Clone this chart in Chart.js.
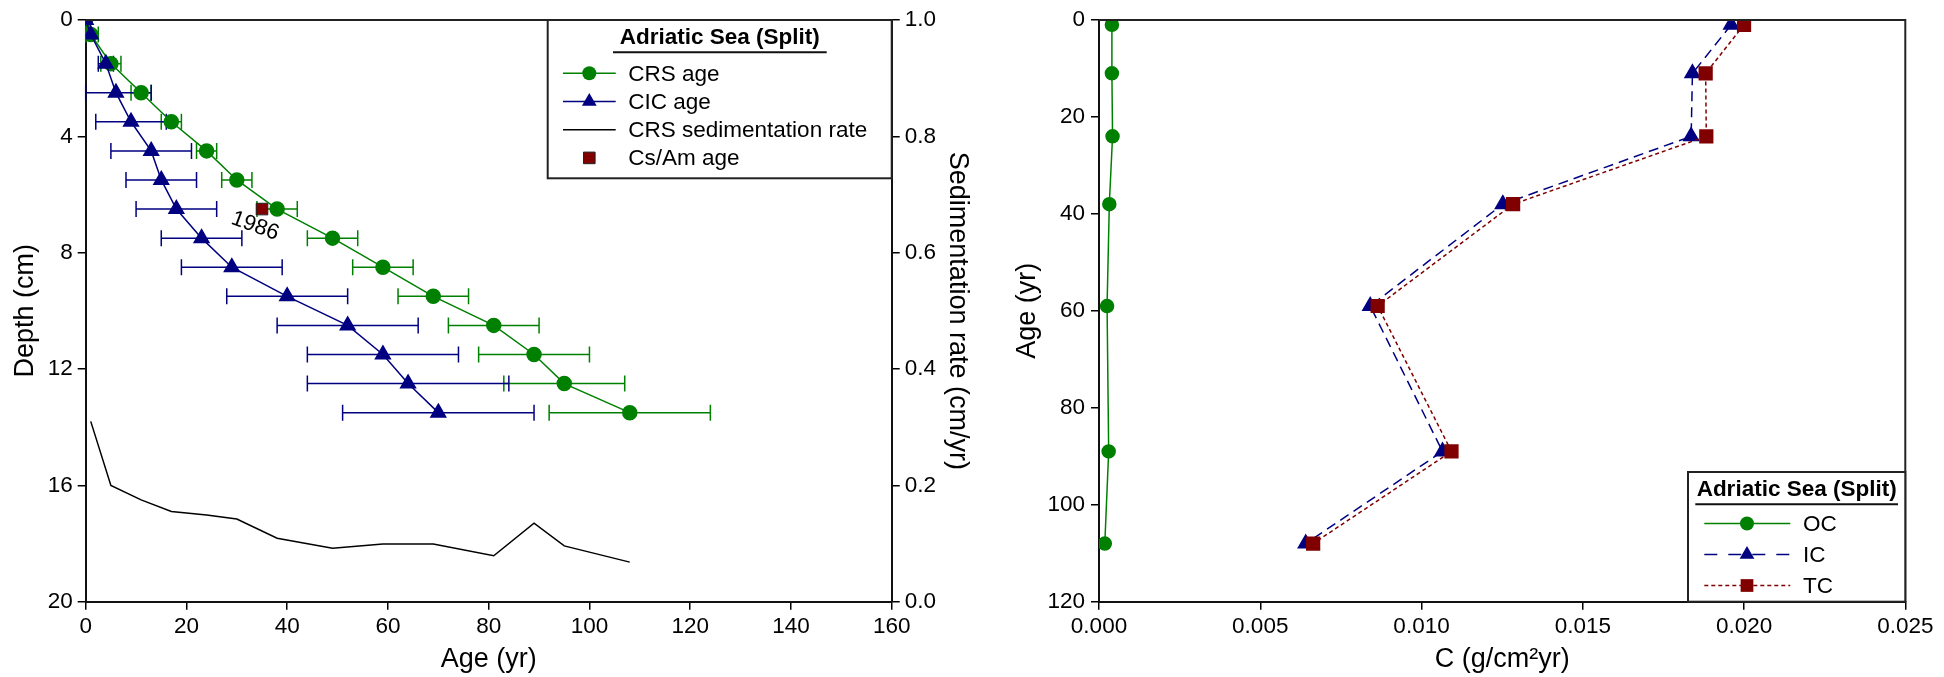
<!DOCTYPE html>
<html><head><meta charset="utf-8">
<script src="https://cdn.jsdelivr.net/npm/chart.js@4.4.0/dist/chart.umd.min.js"></script>
<style>
html,body{margin:0;padding:0;background:#fff;}
#wrap{position:relative;width:1944px;height:677px;overflow:hidden;background:#fff;}
.box{position:absolute;top:0;height:677px;}
</style></head><body>
<div id="wrap">
  <div class="box" style="left:0;width:975px;"><canvas id="c1"></canvas></div>
  <div class="box" style="left:975px;width:969px;"><canvas id="c2"></canvas></div>
</div>
<script>
// ---------- DATA (left panel) ----------
const depthCm   = [0, 0.5, 1.5, 2.5, 3.5, 4.5, 5.5, 6.5, 7.5, 8.5, 9.5, 10.5, 11.5, 12.5, 13.5];
const crsAge    = [0, 1, 5, 11, 17, 24, 30, 38, 49, 59, 69, 81, 89, 95, 108];
const crsAgeLo  = [null, 0, 3, 9, 15, 22, 27, 34, 44, 53, 62, 72, 78, 83, 92];
const crsAgeHi  = [null, 2.5, 7, 13, 19, 26, 33, 42, 54, 65, 76, 90, 100, 107, 124];
const cicAge    = [0, 1, 4, 6, 9, 13, 15, 18, 23, 29, 40, 52, 59, 64, 70];
const cicAgeLo  = [null, null, 2.5, 0, 2, 5, 8, 10, 15, 19, 28, 38, 44, 44, 51];
const cicAgeHi  = [null, null, 5.5, 13, 16, 21, 22, 26, 31, 39, 52, 66, 74, 84, 89];
const sedAge    = [1, 5, 11, 17, 24, 30, 38, 49, 59, 69, 81, 89, 95, 108];
const sedRate   = [0.31, 0.20, 0.175, 0.155, 0.149, 0.142, 0.109, 0.092, 0.099, 0.099, 0.079, 0.135, 0.096, 0.068];
const csamAge   = [35];
const csamDepth = [6.5];
const csamLabel = ['1986'];
const ageTicks   = [0, 20, 40, 60, 80, 100, 120, 140, 160];
const depthTicks = [0, 4, 8, 12, 16, 20];
const rateTicks  = [0, 0.2, 0.4, 0.6, 0.8, 1.0];

// ---------- DATA (right panel) ----------
const fluxAge = [1, 11, 24, 38, 59, 89, 108];
const ocFlux  = [0.0004, 0.0004, 0.00042, 0.00032, 0.00025, 0.0003, 0.00018];
const icFlux  = [0.0196, 0.0184, 0.01836, 0.01252, 0.00841, 0.01065, 0.00641];
const tcFlux  = [0.0200, 0.01881, 0.01883, 0.01284, 0.00864, 0.01093, 0.00664];
const fluxTicks    = [0, 0.005, 0.010, 0.015, 0.020, 0.025];
const fluxAgeTicks = [0, 20, 40, 60, 80, 100, 120];

const legendTitle = 'Adriatic Sea (Split)';
const leftLegendLabels  = ['CRS age', 'CIC age', 'CRS sedimentation rate', 'Cs/Am age'];
const rightLegendLabels = ['OC', 'IC', 'TC'];

// ---------- STYLE ----------
const GREEN = '#008000', NAVY = '#000080', DRED = '#800000';
const FAM = "'Liberation Sans', Arial, Helvetica, sans-serif";
Chart.defaults.font.family = FAM;
Chart.defaults.color = '#000';

const pts = (xs, ys) => xs.map((x, i) => ({x, y: ys[i]}));
const setTicks = arr => s => { s.ticks = arr.map(v => ({value: v})); };

function axis(opts) {
  const baseTicks = {font: {size: 22.5}, color: '#000', padding: 5, maxRotation: 0, autoSkip: false};
  const o = Object.assign({
    type: 'linear',
    grid: {drawOnChartArea: false, drawTicks: true, tickLength: 8, color: '#000', lineWidth: 1.5},
    border: {display: true, color: '#111', width: 2},
  }, opts);
  o.ticks = Object.assign({}, baseTicks, opts.ticks || {});
  return o;
}

function marker(ctx, style, x, y, r, fill, stroke, lw) {
  ctx.save(); ctx.beginPath();
  if (style === 'circle') ctx.arc(x, y, r, 0, Math.PI * 2);
  else if (style === 'triangle') {
    const a = 2 * Math.PI / 3;
    ctx.moveTo(x, y - r);
    ctx.lineTo(x + r * Math.sin(a), y - r * Math.cos(a));
    ctx.lineTo(x - r * Math.sin(a), y - r * Math.cos(a));
    ctx.closePath();
  } else if (style === 'rect') {
    const s = r * Math.SQRT1_2; ctx.rect(x - s, y - s, 2 * s, 2 * s);
  }
  ctx.fillStyle = fill; ctx.fill();
  if (lw) { ctx.strokeStyle = stroke; ctx.lineWidth = lw; ctx.stroke(); }
  ctx.restore();
}

function drawLegend(ctx, L, T, W, H, entries, geo) {
  ctx.save();
  ctx.fillStyle = '#fff'; ctx.fillRect(L, T, W, H);
  ctx.strokeStyle = '#222'; ctx.lineWidth = 2; ctx.strokeRect(L, T, W, H);
  ctx.fillStyle = '#000';
  ctx.font = 'bold 22.5px ' + FAM; ctx.textAlign = 'center'; ctx.textBaseline = 'middle';
  ctx.fillText(legendTitle, L + W / 2, T + geo.titleY);
  ctx.beginPath(); ctx.moveTo(L + geo.ulX0, T + geo.ulY); ctx.lineTo(L + geo.ulX1, T + geo.ulY);
  ctx.lineWidth = 2; ctx.strokeStyle = '#111'; ctx.stroke();
  ctx.font = '22.5px ' + FAM; ctx.textAlign = 'left';
  entries.forEach((e, i) => {
    const y = T + geo.y0 + i * geo.dy;
    if (e.line) {
      ctx.save(); ctx.beginPath(); ctx.setLineDash(e.dash || []);
      ctx.moveTo(L + geo.lx0, y); ctx.lineTo(L + geo.lx1, y);
      ctx.strokeStyle = e.color; ctx.lineWidth = e.lw || 1.5; ctx.stroke(); ctx.restore();
    }
    if (e.style) marker(ctx, e.style, L + geo.mx, y, e.r, e.fill, e.stroke, e.blw);
    ctx.fillStyle = '#000';
    ctx.fillText(e.label, L + geo.tx, y + 1);
  });
  ctx.restore();
}

// ---------- LEFT CHART ----------
const leftPlugin = {
  id: 'leftExtras',
  beforeDatasetsDraw(chart) {
    const {ctx, scales: {x, y}} = chart;
    ctx.save(); ctx.lineWidth = 1.5;
    const bars = [[crsAgeLo, crsAgeHi, GREEN], [cicAgeLo, cicAgeHi, NAVY]];
    bars.forEach(([lo, hi, col]) => {
      ctx.strokeStyle = col;
      depthCm.forEach((d, i) => {
        if (lo[i] == null) return;
        const py = y.getPixelForValue(d), x0 = x.getPixelForValue(lo[i]), x1 = x.getPixelForValue(hi[i]);
        ctx.beginPath();
        ctx.moveTo(x0, py); ctx.lineTo(x1, py);
        ctx.moveTo(x0, py - 8); ctx.lineTo(x0, py + 8);
        ctx.moveTo(x1, py - 8); ctx.lineTo(x1, py + 8);
        ctx.stroke();
      });
    });
    ctx.restore();
  },
  afterDatasetsDraw(chart) {
    const {ctx, chartArea: a, scales: {x, y}} = chart;
    ctx.save();
    ctx.beginPath(); ctx.moveTo(a.left, a.top); ctx.lineTo(a.right, a.top);
    ctx.strokeStyle = '#222'; ctx.lineWidth = 2; ctx.stroke();
    // 1986 label
    const px = x.getPixelForValue(csamAge[0]), py = y.getPixelForValue(csamDepth[0]);
    ctx.translate(px - 7, py + 17); ctx.rotate(20 * Math.PI / 180);
    ctx.font = '22px ' + FAM; ctx.fillStyle = '#000'; ctx.textAlign = 'center'; ctx.textBaseline = 'middle';
    ctx.fillText(csamLabel[0], 0, 0);
    ctx.restore();
    const W = 344, H = 158.3;
    drawLegend(ctx, a.right - W, a.top, W, H, [
      {label: leftLegendLabels[0], line: true, color: GREEN, style: 'circle', r: 7, fill: GREEN},
      {label: leftLegendLabels[1], line: true, color: NAVY, style: 'triangle', r: 8.5, fill: NAVY},
      {label: leftLegendLabels[2], line: true, color: '#000'},
      {label: leftLegendLabels[3], style: 'rect', r: 8.2, fill: DRED, stroke: '#222', blw: 1},
    ], {titleY: 17.5, ulX0: 65.3, ulX1: 279, ulY: 32.3, y0: 53.3, dy: 28.2, lx0: 15.3, lx1: 68, mx: 41.6, tx: 80.6});
  }
};

new Chart(document.getElementById('c1'), {
  type: 'scatter',
  data: {datasets: [
    {label: 'CIC age', data: pts(cicAge, depthCm), showLine: true, borderColor: NAVY, borderWidth: 1.5,
     pointStyle: 'triangle', pointRadius: 8.5, pointBackgroundColor: NAVY, pointBorderColor: NAVY, order: 1, yAxisID: 'y'},
    {label: 'CRS age', data: pts(crsAge, depthCm), showLine: true, borderColor: GREEN, borderWidth: 1.5,
     pointStyle: 'circle', pointRadius: 7, pointBackgroundColor: GREEN, pointBorderColor: GREEN, order: 2, yAxisID: 'y'},
    {label: 'Cs/Am age', data: pts(csamAge, csamDepth), showLine: false,
     pointStyle: 'rect', pointRadius: 8.2, pointBackgroundColor: DRED, pointBorderColor: '#222', pointBorderWidth: 1, order: 3, yAxisID: 'y'},
    {label: 'CRS sedimentation rate', data: pts(sedAge, sedRate), showLine: true, borderColor: '#000', borderWidth: 1.5,
     pointRadius: 0, order: 4, yAxisID: 'y2'},
  ]},
  options: {
    responsive: true, maintainAspectRatio: false, animation: false, events: [],
    layout: {padding: {top: 20, left: 0, right: 0, bottom: 0}},
    plugins: {legend: {display: false}, tooltip: {enabled: false}},
    scales: {
      x: axis({position: 'bottom', min: 0, max: 160, afterBuildTicks: setTicks(ageTicks),
        ticks: {padding: 4}, afterFit: s => { s.height = 75.3; },
        title: {display: true, text: 'Age (yr)', font: {size: 27}, color: '#000', padding: {top: 0, bottom: 1}}}),
      y: axis({position: 'left', reverse: true, min: 0, max: 20, afterBuildTicks: setTicks(depthTicks),
        afterFit: s => { s.width = 85.7; },
        title: {display: true, text: 'Depth (cm)', font: {size: 27}, color: '#000', padding: {top: 9, bottom: 0}}}),
      y2: axis({position: 'right', min: 0, max: 1, afterBuildTicks: setTicks(rateTicks),
        ticks: {callback: v => Number(v).toFixed(1)}, afterFit: s => { s.width = 83.3; },
        title: {display: true, text: 'Sedimentation rate (cm/yr)', font: {size: 27}, color: '#000', padding: {top: 1, bottom: 0}}}),
    }
  },
  plugins: [leftPlugin]
});

// ---------- RIGHT CHART ----------
const rightPlugin = {
  id: 'rightExtras',
  afterDatasetsDraw(chart) {
    const {ctx, chartArea: a} = chart;
    ctx.save();
    ctx.beginPath(); ctx.moveTo(a.left, a.top); ctx.lineTo(a.right, a.top); ctx.lineTo(a.right, a.bottom);
    ctx.strokeStyle = '#222'; ctx.lineWidth = 2; ctx.stroke();
    ctx.restore();
    const W = 217.3, H = 129.7;
    drawLegend(ctx, a.right - W, a.bottom - H, W, H, [
      {label: rightLegendLabels[0], line: true, color: GREEN, style: 'circle', r: 7, fill: GREEN},
      {label: rightLegendLabels[1], line: true, color: NAVY, dash: [13, 11], style: 'triangle', r: 8.5, fill: NAVY},
      {label: rightLegendLabels[2], line: true, color: DRED, dash: [4, 3], style: 'rect', r: 9, fill: DRED},
    ], {titleY: 17.3, ulX0: 7.3, ulX1: 210, ulY: 32.3, y0: 51.5, dy: 31, lx0: 16.3, lx1: 102.3, mx: 59, tx: 115});
  }
};

new Chart(document.getElementById('c2'), {
  type: 'scatter',
  data: {datasets: [
    {label: 'TC', data: pts(tcFlux, fluxAge), showLine: true, borderColor: DRED, borderWidth: 1.5, borderDash: [4, 3],
     pointStyle: 'rect', pointRadius: 9, pointBackgroundColor: DRED, pointBorderColor: DRED, order: 1},
    {label: 'IC', data: pts(icFlux, fluxAge), showLine: true, borderColor: NAVY, borderWidth: 1.5, borderDash: [10, 6],
     pointStyle: 'triangle', pointRadius: 8.5, pointBackgroundColor: NAVY, pointBorderColor: NAVY, order: 2},
    {label: 'OC', data: pts(ocFlux, fluxAge), showLine: true, borderColor: GREEN, borderWidth: 1.5,
     pointStyle: 'circle', pointRadius: 6.5, pointBackgroundColor: GREEN, pointBorderColor: GREEN, order: 3},
  ]},
  options: {
    responsive: true, maintainAspectRatio: false, animation: false, events: [],
    layout: {padding: {top: 20, left: 0, right: 38.7, bottom: 0}},
    plugins: {legend: {display: false}, tooltip: {enabled: false}},
    scales: {
      x: axis({position: 'bottom', min: 0, max: 0.025, afterBuildTicks: setTicks(fluxTicks),
        ticks: {padding: 4, callback: v => Number(v).toFixed(3)}, afterFit: s => { s.height = 75.3; },
        title: {display: true, text: 'C (g/cm\u00B2yr)', font: {size: 27}, color: '#000', padding: {top: 0, bottom: 1}}}),
      y: axis({position: 'left', reverse: true, min: 0, max: 120, afterBuildTicks: setTicks(fluxAgeTicks),
        ticks: {padding: 6}, afterFit: s => { s.width = 124; },
        title: {display: true, text: 'Age (yr)', font: {size: 27}, color: '#000', padding: {top: 36, bottom: 0}}}),
    }
  },
  plugins: [rightPlugin]
});
</script>
</body></html>
